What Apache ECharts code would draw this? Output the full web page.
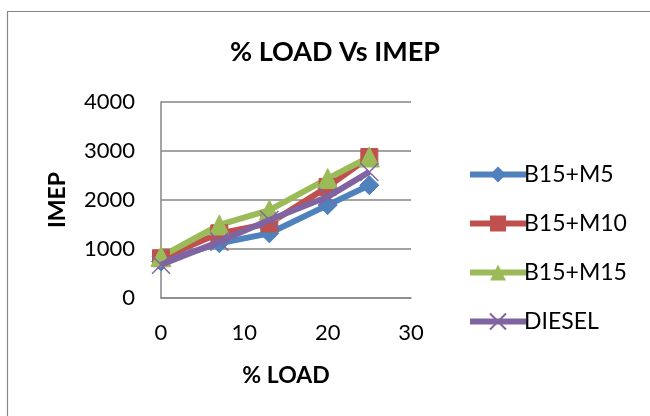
<!DOCTYPE html>
<html>
<head>
<meta charset="utf-8">
<script src="https://cdn.jsdelivr.net/npm/echarts@6/dist/echarts.min.js"></script>
<style>
  html, body { margin: 0; padding: 0; background: #fff; }
  #chart { width: 650px; height: 416px; }
</style>
</head>
<body>
<div id="chart"></div>
<script>
// % load values
var loads = [0, 7, 13, 20, 25];
// IMEP per fuel
var b15m5 = [745, 1117, 1320, 1896, 2302];
var b15m10 = [812, 1320, 1523, 2268, 2877];
var b15m15 = [846, 1490, 1794, 2437, 2877];
var diesel = [677, 1151, 1591, 2065, 2573];
var seriesNames = ['B15+M5', 'B15+M10', 'B15+M15', 'DIESEL'];

var font = 'Lato';
var myChart = echarts.init(document.getElementById('chart'));

function pairs(ys) {
  return ys.map(function (y, i) { return [loads[i], y]; });
}

function line(name, ys, color, symbol, size) {
  return {
    name: name,
    type: 'line',
    data: pairs(ys),
    symbol: symbol,
    symbolSize: size,
    lineStyle: { color: color, width: 6 },
    itemStyle: { color: color, borderColor: color },
    z: 3
  };
}

var option = {
  animation: false,
  backgroundColor: '#fff',
  textStyle: { fontFamily: font },
  title: {
    text: '% LOAD Vs IMEP',
    left: 330,
    textAlign: 'center',
    top: 34,
    textStyle: { fontFamily: font, fontSize: 27, fontWeight: 'bold', color: '#000' }
  },
  graphic: [{
    type: 'rect',
    shape: { x: 7.5, y: 11.5, width: 700, height: 500 },
    style: { fill: 'none', stroke: '#868686', lineWidth: 1.2 },
    silent: true
  }],
  legend: {
    orient: 'vertical',
    left: 462,
    top: 158,
    itemWidth: 56,
    itemHeight: 20,
    itemGap: 26,
    data: seriesNames,
    lineStyle: { width: 6 },
    textStyle: { fontFamily: font, fontSize: 23, color: '#000', padding: [0, 0, 0, -7] }
  },
  grid: { left: 161, right: 239, top: 102, bottom: 118 },
  xAxis: {
    type: 'value',
    min: 0,
    max: 30,
    interval: 10,
    name: '% LOAD',
    nameLocation: 'middle',
    nameGap: 66,
    nameTextStyle: { fontFamily: font, fontSize: 23, fontWeight: 'bold', color: '#000' },
    axisLine: { show: true, lineStyle: { color: '#868686', width: 1.5 } },
    axisTick: { show: false },
    splitLine: { show: false },
    axisLabel: { margin: 24, fontFamily: font, fontSize: 22, color: '#000' }
  },
  yAxis: {
    type: 'value',
    min: 0,
    max: 4000,
    interval: 1000,
    name: 'IMEP',
    nameLocation: 'middle',
    nameGap: 92,
    nameRotate: 90,
    nameTextStyle: { fontFamily: font, fontSize: 23, fontWeight: 'bold', color: '#000' },
    axisLine: { show: true, lineStyle: { color: '#868686', width: 1.5 } },
    axisTick: { show: false },
    splitLine: { show: true, lineStyle: { color: '#868686', width: 1.5 } },
    axisLabel: {
      margin: 26, fontFamily: font, fontSize: 22, color: '#000',
      formatter: function (v) { return String(v); }
    }
  },
  series: [
    line('B15+M5', b15m5, '#4F81BD', 'diamond', 19),
    line('B15+M10', b15m10, '#C0504D', 'rect', 17),
    line('B15+M15', b15m15, '#9BBB59', 'triangle', 20),
    {
      name: 'DIESEL',
      type: 'line',
      data: pairs(diesel),
      symbol: 'path://M0,0 L10,10 M10,0 L0,10',
      symbolSize: 18,
      lineStyle: { color: '#8064A2', width: 6 },
      itemStyle: { color: 'none', borderColor: '#8064A2', borderWidth: 1.5 },
      z: 4
    }
  ]
};

myChart.setOption(option);
</script>
</body>
</html>
